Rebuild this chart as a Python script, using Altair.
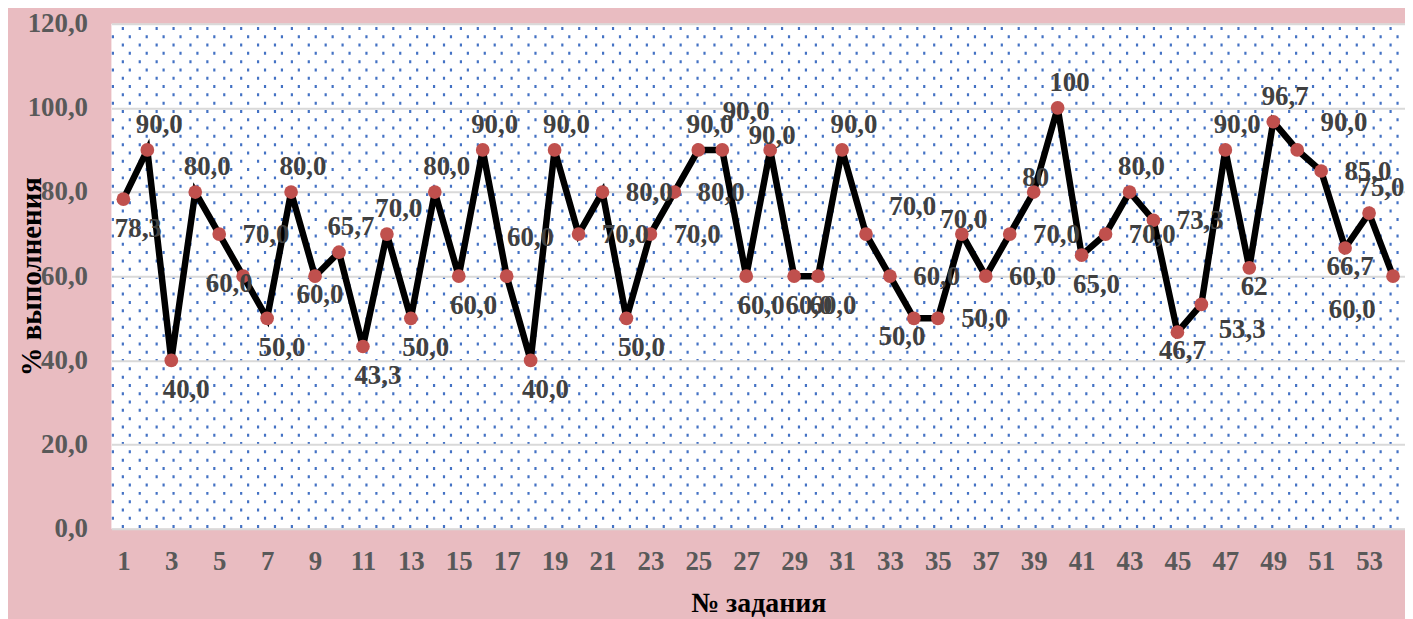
import altair as alt
import pandas as pd

# ---- data ----
tasks = list(range(1, 55))
values = [78.3, 90, 40, 80, 70, 60, 50, 80, 60, 65.7,
          43.3, 70, 50, 80, 60, 90, 60, 40, 90, 70,
          80, 50, 70, 80, 90, 90, 60, 90, 60, 60,
          90, 70, 60, 50, 50, 70, 60, 70, 80, 100,
          65, 70, 80, 73.3, 46.7, 53.3, 90, 62, 96.7, 90,
          85, 66.7, 75, 60]
labels = ["78,3", "90,0", "40,0", "80,0", "70,0", "60,0", "50,0", "80,0", "60,0", "65,7",
          "43,3", "70,0", "50,0", "80,0", "60,0", "90,0", "60,0", "40,0", "90,0", "70,0",
          "80,0", "50,0", "70,0", "80,0", "90,0", "90,0", "60,0", "90,0", "60,0", "60,0",
          "90,0", "70,0", "60,0", "50,0", "50,0", "70,0", "60,0", "70,0", "80", "100",
          "65,0", "70,0", "80,0", "73,3", "46,7", "53,3", "90,0", "62", "96,7", "90,0",
          "85,0", "66,7", "75,0", "60,0"]
# label placement codes (style, not data)
placement = ["B", "A", "B", "A", "R", "L", "B", "A", "B2", "A",
             "B", "A", "B", "A", "B", "A", "AF", "B", "A", "R",
             "R", "B", "R", "R", "A", "AF", "B", "A2", "B", "B",
             "A", "RA", "R", "LB", "R", "A2", "R", "R", "A2", "A",
             "B", "R", "A", "R", "B2", "BR", "A", "B2", "A", "RA",
             "R", "B2", "A", "BL"]
offsets = {
    "A": (12, -25), "A2": (2, -14), "AF": (24, -38), "RA": (47, -27),
    "R": (47, 1), "B": (15, 30), "B2": (5, 19), "L": (-14, 8),
    "BL": (-41, 34), "BR": (41, 26), "LB": (-12, 19),
}

df = pd.DataFrame({"task": tasks, "value": values, "label": labels, "code": placement})

W, H = 1301, 508
FONT = "Liberation Serif"
BG = "#e9bcc1"
DOT = "#4472c4"

x_scale = alt.Scale(domain=[0.5, 54.5], nice=False, zero=False)
y_scale = alt.Scale(domain=[0, 120], nice=False)

x_enc = alt.X("task:Q", scale=x_scale,
              axis=alt.Axis(values=list(range(1, 55, 2)), grid=False, ticks=False, tickSize=0,
                            domain=False, labelPadding=33, labelBaseline="middle",
                            labelFont=FONT, labelFontSize=27, labelFontWeight="bold",
                            labelColor="#595959", labelFlush=False,
                            title="№ задания", titleFont=FONT, titleFontSize=28,
                            titleFontWeight="bold", titleColor="#000000",
                            titleX=W / 2, titleY=75, titleBaseline="middle"))
y_enc = alt.Y("value:Q", scale=y_scale,
              axis=alt.Axis(values=[0, 20, 40, 60, 80, 100, 120],
                            labelExpr="replace(format(datum.value, '.1f'), '.', ',')",
                            grid=True, gridColor="#d9d9d9", gridWidth=2,
                            ticks=False, tickSize=0, domain=False, labelPadding=24,
                            labelFont=FONT, labelFontSize=27, labelFontWeight="bold",
                            labelColor="#595959",
                            title="% выполнения", titleFont=FONT, titleFontSize=29,
                            titleFontWeight="bold", titleColor="#000000",
                            titleAngle=-90, titleX=-80, titleY=H / 2,
                            titleAlign="center", titleBaseline="middle"))

base = alt.Chart(df)
line = base.mark_line(color="#000000", strokeWidth=6.5, strokeJoin="miter").encode(x=x_enc, y=y_enc)
points = base.mark_circle(color="#c0504d", size=190, opacity=1).encode(x="task:Q", y="value:Q")

texts = []
for code, (dx, dy) in offsets.items():
    texts.append(
        base.transform_filter(alt.datum.code == code)
        .mark_text(dx=dx, dy=dy, font=FONT, fontSize=27, fontWeight="bold",
                   color="#404040", align="center", baseline="middle")
        .encode(x="task:Q", y="value:Q", text="label:N")
    )

main = alt.layer(line, points, *texts)

# dotted background pattern drawn as dashed grid lines of pixel-unit scales
def dot_layer(start, dash_offset):
    vals = [v for v in [start + 17 * k for k in range(80)] if v <= W]
    return alt.Chart(alt.Data(values=[{"p": 0}])).mark_point(opacity=0).encode(
        x=alt.X("p:Q", scale=alt.Scale(domain=[0, W], nice=False, zero=False),
                axis=alt.Axis(values=vals, grid=True, gridColor=DOT, gridWidth=2.2,
                              gridDash=[3, 13.7], gridDashOffset=dash_offset,
                              labels=False, ticks=False, domain=False, title=None,
                              orient="top"))
    )

dotsA = dot_layer(11, 13.9)
dotsB = dot_layer(1, 5.55)

chart = alt.layer(dotsA, dotsB, main).resolve_scale(x="independent").properties(
    width=W, height=H,
    background=BG,
    autosize=alt.AutoSizeParams(type="none"),
    padding={"left": 104, "top": 14, "right": 0, "bottom": 89},
).configure_view(fill="#ffffff", stroke=None)

chart.save("out.html", embed_options={"renderer": "svg", "actions": False})
